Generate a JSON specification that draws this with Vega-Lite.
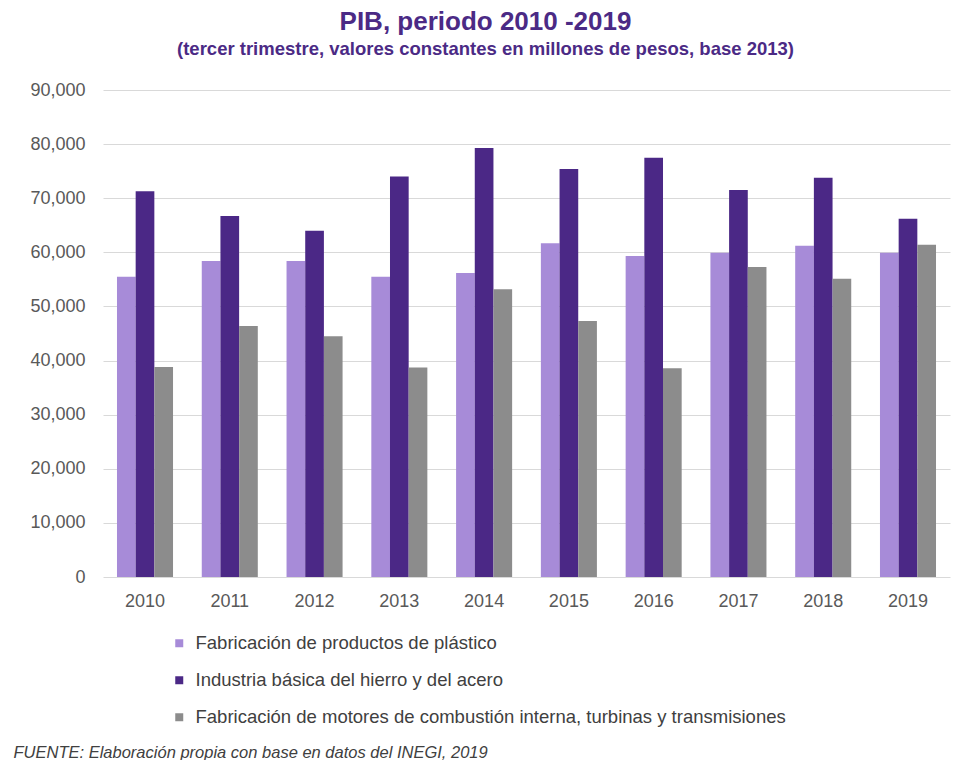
{
  "$schema": "https://vega.github.io/schema/vega-lite/v6.json",
  "width": 847,
  "height": 487,
  "autosize": {"type": "none"},
  "padding": {"left": 103, "top": 90, "right": 13, "bottom": 183},
  "background": "white",
  "title": {
    "text": "PIB, periodo 2010 -2019",
    "subtitle": "(tercer trimestre, valores constantes en millones de pesos, base 2013)",
    "anchor": "middle",
    "frame": "group",
    "dx": -41,
    "offset": 23,
    "font": "Liberation Sans",
    "fontSize": 26,
    "fontWeight": "bold",
    "color": "#4b2a85",
    "subtitleFont": "Liberation Sans",
    "subtitleFontSize": 18.5,
    "subtitleFontWeight": "bold",
    "subtitleColor": "#4b2a85",
    "subtitlePadding": 5
  },
  "data": {
    "values": [
      {"year": "2010", "series": "Fabricación de productos de plástico", "value": 55500},
      {"year": "2010", "series": "Industria básica del hierro y del acero", "value": 71300},
      {"year": "2010", "series": "Fabricación de motores de combustión interna, turbinas y transmisiones", "value": 38800},
      {"year": "2011", "series": "Fabricación de productos de plástico", "value": 58400},
      {"year": "2011", "series": "Industria básica del hierro y del acero", "value": 66700},
      {"year": "2011", "series": "Fabricación de motores de combustión interna, turbinas y transmisiones", "value": 46400},
      {"year": "2012", "series": "Fabricación de productos de plástico", "value": 58400},
      {"year": "2012", "series": "Industria básica del hierro y del acero", "value": 64000},
      {"year": "2012", "series": "Fabricación de motores de combustión interna, turbinas y transmisiones", "value": 44500},
      {"year": "2013", "series": "Fabricación de productos de plástico", "value": 55500},
      {"year": "2013", "series": "Industria básica del hierro y del acero", "value": 74000},
      {"year": "2013", "series": "Fabricación de motores de combustión interna, turbinas y transmisiones", "value": 38700},
      {"year": "2014", "series": "Fabricación de productos de plástico", "value": 56200},
      {"year": "2014", "series": "Industria básica del hierro y del acero", "value": 79300},
      {"year": "2014", "series": "Fabricación de motores de combustión interna, turbinas y transmisiones", "value": 53200},
      {"year": "2015", "series": "Fabricación de productos de plástico", "value": 61700},
      {"year": "2015", "series": "Industria básica del hierro y del acero", "value": 75400},
      {"year": "2015", "series": "Fabricación de motores de combustión interna, turbinas y transmisiones", "value": 47300},
      {"year": "2016", "series": "Fabricación de productos de plástico", "value": 59300},
      {"year": "2016", "series": "Industria básica del hierro y del acero", "value": 77500},
      {"year": "2016", "series": "Fabricación de motores de combustión interna, turbinas y transmisiones", "value": 38600},
      {"year": "2017", "series": "Fabricación de productos de plástico", "value": 59900},
      {"year": "2017", "series": "Industria básica del hierro y del acero", "value": 71500},
      {"year": "2017", "series": "Fabricación de motores de combustión interna, turbinas y transmisiones", "value": 57300},
      {"year": "2018", "series": "Fabricación de productos de plástico", "value": 61200},
      {"year": "2018", "series": "Industria básica del hierro y del acero", "value": 73800},
      {"year": "2018", "series": "Fabricación de motores de combustión interna, turbinas y transmisiones", "value": 55100},
      {"year": "2019", "series": "Fabricación de productos de plástico", "value": 59900},
      {"year": "2019", "series": "Industria básica del hierro y del acero", "value": 66200},
      {"year": "2019", "series": "Fabricación de motores de combustión interna, turbinas y transmisiones", "value": 61400}
    ]
  },
  "mark": {"type": "bar"},
  "encoding": {
    "x": {
      "field": "year",
      "type": "nominal",
      "scale": {"paddingInner": 0.339, "paddingOuter": 0.165},
      "axis": {
        "title": "FUENTE: Elaboración propia con base en datos del INEGI, 2019",
        "titleX": -90,
        "titleY": 175,
        "titleAlign": "left",
        "titleBaseline": "middle",
        "titleFont": "Liberation Sans",
        "titleFontSize": 16.5,
        "titleFontStyle": "italic",
        "titleFontWeight": "normal",
        "titleColor": "#404040",
        "labelAngle": 0,
        "labelFont": "Liberation Sans",
        "labelFontSize": 18,
        "labelColor": "#595959",
        "labelPadding": 15,
        "domain": false,
        "ticks": false
      }
    },
    "xOffset": {
      "field": "series",
      "type": "nominal",
      "sort": [
        "Fabricación de productos de plástico",
        "Industria básica del hierro y del acero",
        "Fabricación de motores de combustión interna, turbinas y transmisiones"
      ],
      "scale": {"paddingInner": 0, "paddingOuter": 0}
    },
    "y": {
      "field": "value",
      "type": "quantitative",
      "scale": {"domain": [0, 90000], "nice": false},
      "axis": {
        "title": null,
        "values": [0, 10000, 20000, 30000, 40000, 50000, 60000, 70000, 80000, 90000],
        "format": ",.0f",
        "labelFont": "Liberation Sans",
        "labelFontSize": 18,
        "labelColor": "#595959",
        "labelPadding": 18,
        "domain": false,
        "ticks": false,
        "gridColor": "#d9d9d9",
        "gridWidth": 1.2
      }
    },
    "color": {
      "field": "series",
      "type": "nominal",
      "sort": [
        "Fabricación de productos de plástico",
        "Industria básica del hierro y del acero",
        "Fabricación de motores de combustión interna, turbinas y transmisiones"
      ],
      "scale": {
        "domain": [
          "Fabricación de productos de plástico",
          "Industria básica del hierro y del acero",
          "Fabricación de motores de combustión interna, turbinas y transmisiones"
        ],
        "range": ["#a78bd8", "#4b2886", "#8c8c8c"]
      },
      "legend": {
        "title": null,
        "orient": "none",
        "legendX": 67,
        "legendY": 544,
        "direction": "vertical",
        "symbolType": "square",
        "symbolSize": 64,
        "symbolStrokeWidth": 0,
        "labelFont": "Liberation Sans",
        "labelFontSize": 18.5,
        "labelColor": "#404040",
        "labelOffset": 7,
        "labelLimit": 900,
        "rowPadding": 18
      }
    }
  },
  "config": {
    "view": {"stroke": null}
  }
}
